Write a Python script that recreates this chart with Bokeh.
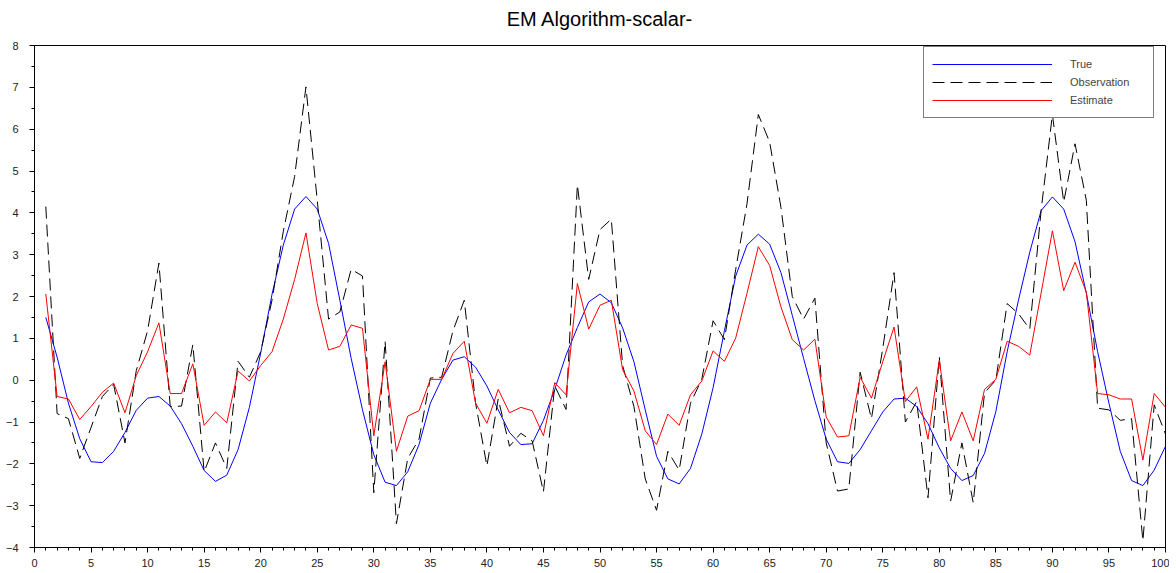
from bokeh.plotting import figure
from bokeh.models import Range1d, SingleIntervalTicker, Legend, LegendItem, ColumnDataSource, Title
from bokeh.embed import file_html
from bokeh.resources import INLINE

x_vals = list(range(1, 101))

true_vals = [1.50, 0.55, -0.55, -1.40, -1.95, -1.97, -1.70, -1.25, -0.72, -0.43,
             -0.39, -0.62, -1.04, -1.58, -2.16, -2.42, -2.27, -1.66, -0.65, 0.65,
             2.05, 3.23, 4.09, 4.39, 4.09, 3.27, 1.91, 0.52, -0.71, -1.78,
             -2.44, -2.52, -2.19, -1.54, -0.55, 0.02, 0.48, 0.56, 0.31, -0.14,
             -0.71, -1.25, -1.54, -1.52, -0.96, -0.22, 0.60, 1.26, 1.87, 2.06,
             1.85, 1.25, 0.44, -0.71, -1.82, -2.36, -2.48, -2.11, -1.29, -0.18,
             1.18, 2.49, 3.23, 3.49, 3.25, 2.57, 1.55, 0.52, -0.49, -1.41,
             -1.95, -1.99, -1.66, -1.21, -0.76, -0.45, -0.43, -0.63, -1.04, -1.62,
             -2.11, -2.40, -2.28, -1.75, -0.75, 0.68, 1.91, 3.06, 4.05, 4.38,
             4.09, 3.31, 2.08, 0.68, -0.55, -1.70, -2.40, -2.52, -2.15, -1.58]

obs_vals = [4.15, -0.80, -0.92, -1.87, -1.13, -0.39, -0.10, -1.50, 0.23, 1.18,
            2.80, -0.63, -0.62, 0.85, -2.19, -1.50, -2.11, 0.45, 0.07, 0.68,
            1.91, 3.56, 4.87, 7.01, 4.30, 1.46, 1.63, 2.65, 2.49, -2.69,
            0.93, -3.43, -1.87, -1.41, 0.05, 0.07, 1.18, 1.91, -0.55, -2.05,
            -0.45, -1.58, -1.27, -1.45, -2.67, -0.14, -0.70, 4.67, 2.41, 3.60,
            3.85, 0.35, -0.63, -2.36, -3.11, -1.70, -2.15, -0.55, 0.02, 1.42,
            0.97, 2.65, 4.22, 6.35, 5.69, 4.13, 2.00, 1.46, 1.96, -1.50,
            -2.65, -2.60, 0.19, -0.92, 0.76, 2.57, -1.00, -0.51, -2.81, 0.56,
            -2.89, -1.50, -2.93, -0.30, 0.00, 1.83, 1.59, 1.22, 4.05, 6.35,
            4.26, 5.65, 4.30, -0.67, -0.71, -0.96, -0.92, -3.84, -0.59, -1.29]

est_vals = [2.06, -0.39, -0.45, -0.94, -0.63, -0.29, -0.07, -0.78, 0.11, 0.68,
            1.37, -0.32, -0.32, 0.39, -1.08, -0.76, -1.02, 0.22, -0.02, 0.35,
            0.68, 1.46, 2.41, 3.52, 1.83, 0.72, 0.81, 1.32, 1.24, -1.33,
            0.44, -1.70, -0.86, -0.73, 0.02, 0.02, 0.64, 0.93, -0.55, -1.03,
            -0.22, -0.78, -0.65, -0.73, -1.33, -0.06, -0.35, 2.31, 1.22, 1.79,
            1.91, 0.25, -0.26, -1.21, -1.54, -0.81, -1.08, -0.35, -0.02, 0.70,
            0.45, 1.01, 2.08, 3.19, 2.74, 1.75, 0.97, 0.72, 0.98, -0.88,
            -1.36, -1.33, 0.07, -0.43, 0.44, 1.27, -0.51, -0.16, -1.41, 0.48,
            -1.45, -0.76, -1.45, -0.22, 0.02, 0.93, 0.81, 0.60, 2.08, 3.57,
            2.14, 2.82, 2.10, -0.32, -0.35, -0.45, -0.45, -1.91, -0.32, -0.65]

series_names = ["True", "Observation", "Estimate"]

FONT = "Liberation Sans"

p = figure(width=1169, height=572, x_range=Range1d(0, 100), y_range=Range1d(-4, 8),
           output_backend="svg", toolbar_location=None,
           min_border_left=34, min_border_right=4, min_border_top=44, min_border_bottom=25)

p.title.text = "EM Algorithm-scalar-"
p.title.align = "center"
p.title.text_font = FONT
p.title.text_font_size = "20px"
p.title.text_font_style = "normal"
p.title.text_color = "black"

# small spacer between title and frame
p.add_layout(Title(text=" ", text_font_size="8px", standoff=0), "above")

p.xgrid.visible = False
p.ygrid.visible = False
p.outline_line_color = "black"
p.outline_line_alpha = 1.0
p.outline_line_width = 1

p.xaxis.ticker = SingleIntervalTicker(interval=5, num_minor_ticks=5)
p.yaxis.ticker = SingleIntervalTicker(interval=1, num_minor_ticks=2)
for ax in (p.xaxis[0], p.yaxis[0]):
    ax.axis_line_color = "black"
    ax.major_tick_line_color = "black"
    ax.minor_tick_line_color = "black"
    ax.major_tick_in = 0
    ax.major_tick_out = 5
    ax.minor_tick_in = 0
    ax.minor_tick_out = 3
    ax.major_label_text_font = FONT
    ax.major_label_text_font_size = "11px"
    ax.major_label_text_color = "#222222"
p.yaxis[0].major_label_standoff = 11
p.xaxis[0].major_label_standoff = 6

src = ColumnDataSource(dict(x=x_vals, t=true_vals, o=obs_vals, e=est_vals))
r_true = p.line("x", "t", source=src, line_color="#0000ff", line_width=1)
r_obs = p.line("x", "o", source=src, line_color="black", line_width=1, line_dash="12 6")
r_est = p.line("x", "e", source=src, line_color="#ff0000", line_width=1)

legend = Legend(items=[LegendItem(label=series_names[0], renderers=[r_true]),
                       LegendItem(label=series_names[1], renderers=[r_obs]),
                       LegendItem(label=series_names[2], renderers=[r_est])],
                location=(889, 429))
legend.glyph_width = 120
legend.glyph_height = 18
legend.label_height = 18
legend.label_width = 75
legend.spacing = 0
legend.padding = 8
legend.margin = 0
legend.label_standoff = 18
legend.label_text_font = FONT
legend.label_text_font_size = "11px"
legend.border_line_color = "black"
legend.border_line_width = 1
legend.background_fill_color = "white"
legend.background_fill_alpha = 1.0
p.add_layout(legend, "center")

open("out.html", "w").write(file_html(p, INLINE))
